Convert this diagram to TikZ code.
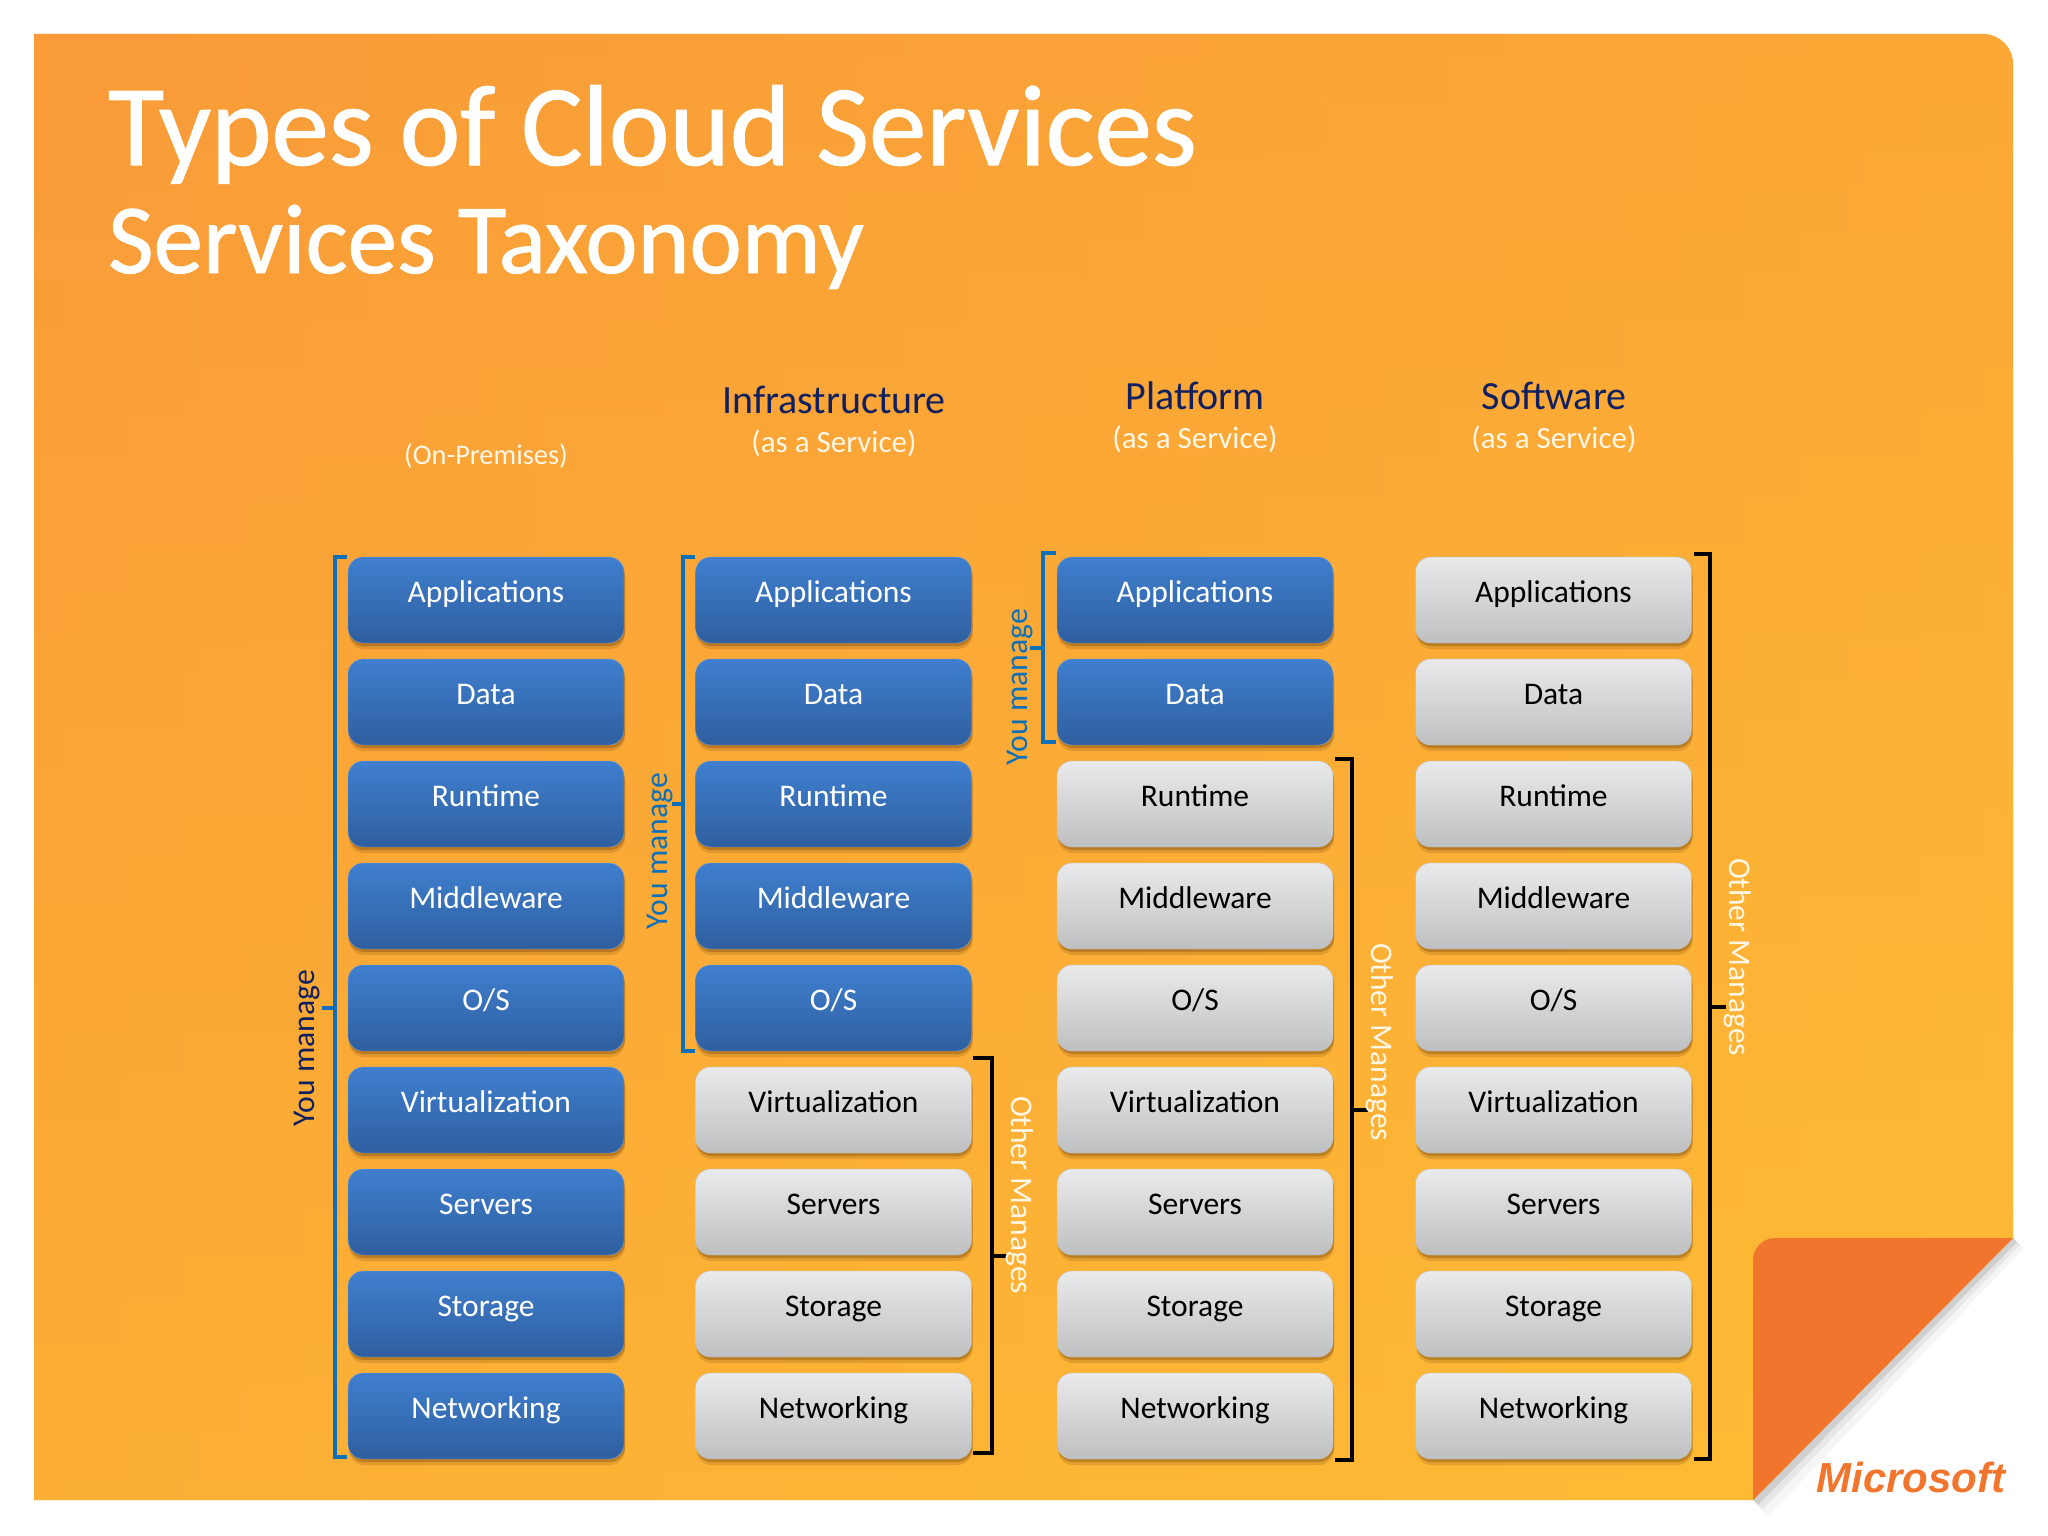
\documentclass[tikz,border=0pt]{standalone}
\usepackage{fontspec}
\setmainfont{Carlito}
\newfontfamily\logofont{Liberation Sans}
\newfontfamily\titlefont[FakeBold=1]{Carlito}
\usetikzlibrary{positioning, shadows}

\definecolor{pageA}{HTML}{F99B38}
\definecolor{pageB}{HTML}{FFBC35}
\definecolor{foldcolor}{HTML}{F2752D}
\definecolor{blueA}{HTML}{3F7FCF}
\definecolor{blueB}{HTML}{2F5F9F}
\definecolor{greyA}{HTML}{E9EAEB}
\definecolor{greyB}{HTML}{BEBFC1}
\definecolor{youblue}{HTML}{0F70B7}
\definecolor{navy}{HTML}{0F1F5F}
\definecolor{paletext}{HTML}{FFF7E6}

\tikzset{
  stackbox/.style={rounded corners=15pt, minimum width=276pt, minimum height=86pt, inner sep=0pt,
    text height=30pt, text depth=25pt, font=\fontsize{31.5}{32}\selectfont,
    drop shadow={shadow xshift=1pt, shadow yshift=-6pt, fill=black!70!orange, opacity=.15},
    drop shadow={shadow xshift=1pt, shadow yshift=-3pt, fill=black!70!orange, opacity=.25}},
  bluebox/.style={stackbox, top color=blueA, bottom color=blueB, draw=blueA!80!black!60, text=white},
  greybox/.style={stackbox, top color=greyA, bottom color=greyB, draw=greyB, text=black},
  youline/.style={draw=youblue, line width=4.5pt},
  otherline/.style={draw=black, line width=4.5pt},
  headname/.style={text=navy, font=\fontsize{40}{40}\selectfont},
  headsub/.style={text=paletext, font=\fontsize{31}{31}\selectfont},
  youtext/.style={rotate=90, font=\fontsize{31.7}{32}\selectfont},
  othertext/.style={rotate=-90, text=paletext, font=\fontsize{31.5}{32}\selectfont}
}

\begin{document}
\begin{tikzpicture}[x=1pt,y=-1pt]
\useasboundingbox (0,0) rectangle (2048,1536);

% page with the folded corner
\shade[left color=pageA, right color=pageB]
  (34,34) [rounded corners=30pt] -- (2013,34) [sharp corners] -- (2013,1238) -- (1753,1500) -- (34,1500) -- cycle;
\shade[top color=pageA, bottom color=pageB, opacity=.6]
  (34,34) [rounded corners=30pt] -- (2013,34) [sharp corners] -- (2013,1238) -- (1753,1500) -- (34,1500) -- cycle;
\fill[black, opacity=.04] (2013,1238) -- (2024,1248) -- (1768,1516) -- (1753,1500) -- cycle;
\fill[black, opacity=.06] (2013,1238) -- (2020,1245) -- (1762,1510) -- (1753,1500) -- cycle;
\fill[black, opacity=.10] (2013,1238) -- (2017,1242) -- (1758,1505) -- (1753,1500) -- cycle;
\fill[foldcolor] (1753,1500) [rounded corners=22pt] -- (1753,1238) [sharp corners] -- (2013,1238) -- cycle;

\node[anchor=base west, text=white, inner sep=0pt, font=\titlefont\fontsize{115}{115}\selectfont] (title) at (108,165) {Types of Cloud Services};
\node[anchor=base west, text=white, inner sep=0pt, font=\titlefont\fontsize{99}{99}\selectfont] (subtitle) at (108,273) {Services Taxonomy};
\node[anchor=base, text=foldcolor, inner sep=0pt, font=\logofont\bfseries\itshape\fontsize{42}{42}\selectfont] (logo) at (1911,1492) {Microsoft};

% column headings
\node[headsub, font=\fontsize{28.4}{29}\selectfont] (headA) at (486,456) {(On-Premises)};
\node[headname] (headB) at (834,400) {Infrastructure};
\node[headsub] (subB) at (834,443) {(as a Service)};
\node[headname] (headC) at (1195,396) {Platform};
\node[headsub] (subC) at (1195,439) {(as a Service)};
\node[headname] (headD) at (1554,396) {Software};
\node[headsub] (subD) at (1554,439) {(as a Service)};

% on-premises
\node[bluebox] (A1) at (486,600) {Applications};
\node[bluebox] (A2) at (486,702) {Data};
\node[bluebox] (A3) at (486,804) {Runtime};
\node[bluebox] (A4) at (486,906) {Middleware};
\node[bluebox] (A5) at (486,1008) {O/S};
\node[bluebox] (A6) at (486,1110) {Virtualization};
\node[bluebox] (A7) at (486,1212) {Servers};
\node[bluebox] (A8) at (486,1314) {Storage};
\node[bluebox] (A9) at (486,1416) {Networking};

% infrastructure
\node[bluebox] (B1) at (833.5,600) {Applications};
\node[bluebox] (B2) at (833.5,702) {Data};
\node[bluebox] (B3) at (833.5,804) {Runtime};
\node[bluebox] (B4) at (833.5,906) {Middleware};
\node[bluebox] (B5) at (833.5,1008) {O/S};
\node[greybox] (B6) at (833.5,1110) {Virtualization};
\node[greybox] (B7) at (833.5,1212) {Servers};
\node[greybox] (B8) at (833.5,1314) {Storage};
\node[greybox] (B9) at (833.5,1416) {Networking};

% platform
\node[bluebox] (C1) at (1195,600) {Applications};
\node[bluebox] (C2) at (1195,702) {Data};
\node[greybox] (C3) at (1195,804) {Runtime};
\node[greybox] (C4) at (1195,906) {Middleware};
\node[greybox] (C5) at (1195,1008) {O/S};
\node[greybox] (C6) at (1195,1110) {Virtualization};
\node[greybox] (C7) at (1195,1212) {Servers};
\node[greybox] (C8) at (1195,1314) {Storage};
\node[greybox] (C9) at (1195,1416) {Networking};

% software
\node[greybox] (D1) at (1553.5,600) {Applications};
\node[greybox] (D2) at (1553.5,702) {Data};
\node[greybox] (D3) at (1553.5,804) {Runtime};
\node[greybox] (D4) at (1553.5,906) {Middleware};
\node[greybox] (D5) at (1553.5,1008) {O/S};
\node[greybox] (D6) at (1553.5,1110) {Virtualization};
\node[greybox] (D7) at (1553.5,1212) {Servers};
\node[greybox] (D8) at (1553.5,1314) {Storage};
\node[greybox] (D9) at (1553.5,1416) {Networking};

% brackets
\draw[youline] (347,557) -- (335,557) -- (335,1457) -- (347,1457);
\draw[youline] (335,1008) -- (322,1008);
\draw[youline] (695,557) -- (683,557) -- (683,1051) -- (695,1051);
\draw[youline] (683,804) -- (672,804);
\draw[youline] (1056,553) -- (1043,553) -- (1043,742) -- (1056,742);
\draw[youline] (1043,648) -- (1030,648);

\draw[otherline] (973,1058) -- (992,1058) -- (992,1453) -- (973,1453);
\draw[otherline] (992,1256) -- (1007,1256);
\draw[otherline] (1335,759) -- (1352,759) -- (1352,1460) -- (1335,1460);
\draw[otherline] (1352,1110) -- (1368,1110);
\draw[otherline] (1694,554) -- (1710,554) -- (1710,1459) -- (1694,1459);
\draw[otherline] (1710,1007) -- (1726,1007);

\node[youtext, text=navy] (youA) at (307,1048) {You manage};
\node[youtext, text=youblue] (youB) at (660,851) {You manage};
\node[youtext, text=youblue] (youC) at (1020,687) {You manage};

\node[othertext] (otherB) at (1020,1195) {Other Manages};
\node[othertext] (otherC) at (1380,1042) {Other Manages};
\node[othertext] (otherD) at (1738,957) {Other Manages};
\end{tikzpicture}
\end{document}
